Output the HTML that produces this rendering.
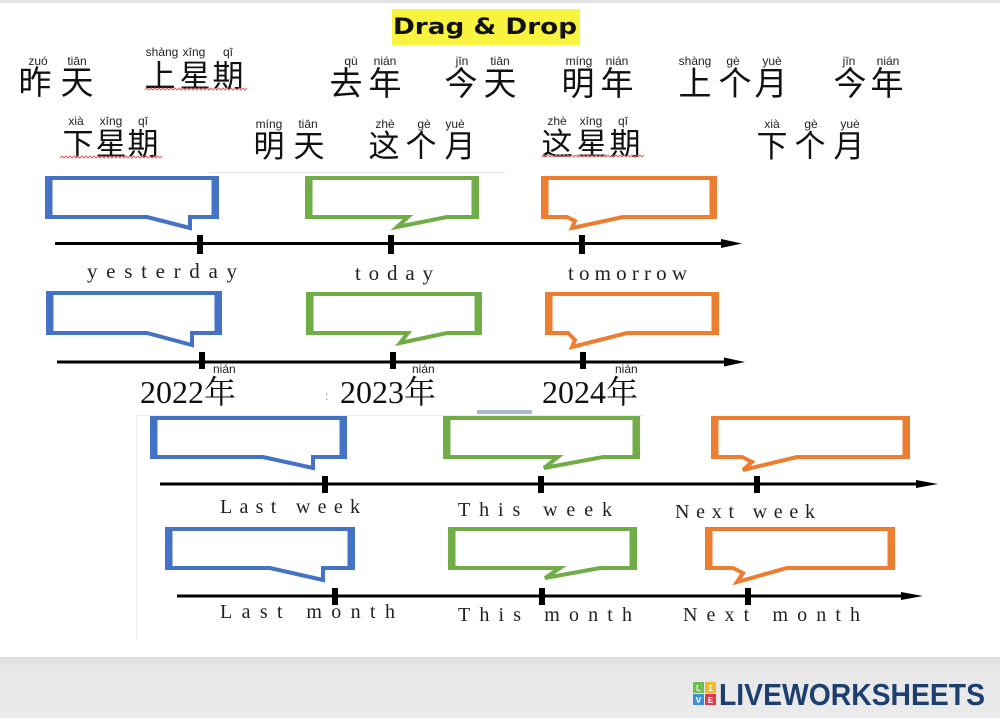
<!DOCTYPE html>
<html><head><meta charset="utf-8"><style>
html,body{margin:0;padding:0;background:#fff;width:1000px;height:718px;overflow:hidden}
svg{display:block}
.cn{font-family:"Noto Sans CJK SC","WenQuanYi Zen Hei",sans-serif;fill:#111}
.py{font-family:"Liberation Sans","DejaVu Sans",sans-serif;font-size:12px;fill:#222}
.lb{font-family:"Liberation Serif",serif;fill:#222}
.yr{font-family:"Liberation Serif","Noto Serif CJK SC",serif;font-size:32px;fill:#111}
</style></head><body>
<svg width="1000" height="718" viewBox="0 0 1000 718" xmlns="http://www.w3.org/2000/svg">
<rect x="0" y="0" width="1000" height="718" fill="#fff"/>
<rect x="0" y="0" width="1000" height="3" fill="#e4e4e4"/>

<!-- title -->
<rect x="392" y="9" width="188" height="36" fill="#f8f33f"/>
<text x="393" y="34" font-family="'DejaVu Sans',sans-serif" font-weight="bold" font-size="22" textLength="184" lengthAdjust="spacingAndGlyphs" fill="#111">Drag &amp; Drop</text>

<!-- row 1 words -->
<g class="cn" font-size="33" text-anchor="middle">
<text x="35" y="94">昨</text><text x="77" y="94">天</text>
<text x="346" y="95">去</text><text x="385" y="95">年</text>
<text x="461" y="95">今</text><text x="500" y="95">天</text>
<text x="578" y="95">明</text><text x="617" y="95">年</text>
<text x="695" y="95">上</text><text x="735" y="95">个</text><text x="771" y="95">月</text>
<text x="850" y="95">今</text><text x="887" y="95">年</text>
</g>
<g class="cn" font-size="31" text-anchor="middle">
<text x="160" y="87">上</text><text x="195" y="87">星</text><text x="228" y="87">期</text>
<text x="78" y="155">下</text><text x="111" y="155">星</text><text x="143" y="155">期</text>
<text x="269" y="157">明</text><text x="309" y="157">天</text>
<text x="384" y="157">这</text><text x="421" y="157">个</text><text x="460" y="157">月</text>
<text x="557" y="155">这</text><text x="592" y="155">星</text><text x="625" y="155">期</text>
<text x="772" y="157">下</text><text x="810" y="157">个</text><text x="849" y="157">月</text>
</g>
<g class="py" text-anchor="middle">
<text x="38" y="65">zuó</text><text x="77" y="65">tiān</text>
<text x="162" y="56">shàng</text><text x="194" y="56">xīng</text><text x="228" y="56">qī</text>
<text x="351" y="65">qù</text><text x="385" y="65">nián</text>
<text x="462" y="65">jīn</text><text x="500" y="65">tiān</text>
<text x="579" y="65">míng</text><text x="617" y="65">nián</text>
<text x="695" y="65">shàng</text><text x="733" y="65">gè</text><text x="772" y="65">yuè</text>
<text x="849" y="65">jīn</text><text x="888" y="65">nián</text>
<text x="76" y="125">xià</text><text x="111" y="125">xīng</text><text x="143" y="125">qī</text>
<text x="269" y="128">míng</text><text x="308" y="128">tiān</text>
<text x="385" y="128">zhè</text><text x="424" y="128">gè</text><text x="455" y="128">yuè</text>
<text x="557" y="125">zhè</text><text x="591" y="125">xīng</text><text x="623" y="125">qī</text>
<text x="772" y="128">xià</text><text x="811" y="128">gè</text><text x="850" y="128">yuè</text>
</g>
<!-- wavy underlines -->
<g fill="none" stroke="#e06060" stroke-width="1">
<path d="M145,90 l2,-2 l2,2 l2,-2 l2,2 l2,-2 l2,2 l2,-2 l2,2 l2,-2 l2,2 l2,-2 l2,2 l2,-2 l2,2 l2,-2 l2,2 l2,-2 l2,2 l2,-2 l2,2 l2,-2 l2,2 l2,-2 l2,2 l2,-2 l2,2 l2,-2 l2,2 l2,-2 l2,2 l2,-2 l2,2 l2,-2 l2,2 l2,-2 l2,2 l2,-2 l2,2 l2,-2 l2,2 l2,-2 l2,2 l2,-2 l2,2 l2,-2 l2,2 l2,-2 l2,2 l2,-2 l2,2 l2,-2"/>
<path d="M60,158 l2,-2 l2,2 l2,-2 l2,2 l2,-2 l2,2 l2,-2 l2,2 l2,-2 l2,2 l2,-2 l2,2 l2,-2 l2,2 l2,-2 l2,2 l2,-2 l2,2 l2,-2 l2,2 l2,-2 l2,2 l2,-2 l2,2 l2,-2 l2,2 l2,-2 l2,2 l2,-2 l2,2 l2,-2 l2,2 l2,-2 l2,2 l2,-2 l2,2 l2,-2 l2,2 l2,-2 l2,2 l2,-2 l2,2 l2,-2 l2,2 l2,-2 l2,2 l2,-2 l2,2 l2,-2 l2,2 l2,-2"/>
<path d="M542,157 l2,-2 l2,2 l2,-2 l2,2 l2,-2 l2,2 l2,-2 l2,2 l2,-2 l2,2 l2,-2 l2,2 l2,-2 l2,2 l2,-2 l2,2 l2,-2 l2,2 l2,-2 l2,2 l2,-2 l2,2 l2,-2 l2,2 l2,-2 l2,2 l2,-2 l2,2 l2,-2 l2,2 l2,-2 l2,2 l2,-2 l2,2 l2,-2 l2,2 l2,-2 l2,2 l2,-2 l2,2 l2,-2 l2,2 l2,-2 l2,2 l2,-2 l2,2 l2,-2 l2,2 l2,-2 l2,2 l2,-2"/>
</g>

<!-- faint guide lines -->
<line x1="210" y1="172.5" x2="505" y2="172.5" stroke="#e2e2e2" stroke-width="1"/>
<line x1="136.5" y1="415" x2="136.5" y2="640" stroke="#ececec" stroke-width="1"/>
<line x1="136" y1="415.5" x2="645" y2="415.5" stroke="#ececec" stroke-width="1"/>
<rect x="477" y="410" width="55" height="4" fill="#a9b8cc"/>

<!-- bubbles -->
<g fill="#fff" stroke-width="4" stroke-linejoin="miter">
<path stroke="#4472c4" d="M47,178 H217 V217 H190 V228 L147,217 H47 Z"/>
<path stroke="#70ad47" d="M307,178 H477 V217 H447 L397,227 L408,217 H307 Z"/>
<path stroke="#ed7d31" d="M543,178 H715 V217 H623 L572,228 L575,221 L567,217 H543 Z"/>
<path stroke="#4472c4" d="M48,293 H220 V333 H192 V345 L147,333 H48 Z"/>
<path stroke="#70ad47" d="M308,294 H480 V333 H447 L400,343 L408,333 H308 Z"/>
<path stroke="#ed7d31" d="M547,294 H717 V333 H627 L572,347 L575,340 L568,333 H547 Z"/>
<path stroke="#4472c4" d="M152,418 H345 V457 H313 V468 L263,457 H152 Z"/>
<path stroke="#70ad47" d="M445,418 H638 V457 H603 L544,468 L558,457 H445 Z"/>
<path stroke="#ed7d31" d="M713,418 H908 V457 H797 L743,470 L752,462 L742,457 H713 Z"/>
<path stroke="#4472c4" d="M167,529 H353 V568 H323 V580 L270,568 H167 Z"/>
<path stroke="#70ad47" d="M450,529 H635 V568 H600 L545,578 L560,568 H450 Z"/>
<path stroke="#ed7d31" d="M707,529 H893 V568 H787 L737,582 L743,573 L733,568 H707 Z"/>
</g>
<!-- thicker sides -->
<g stroke-width="7" fill="none">
<g stroke="#4472c4">
<line x1="49" y1="176" x2="49" y2="219"/><line x1="215" y1="176" x2="215" y2="219"/>
<line x1="50" y1="291" x2="50" y2="335"/><line x1="218" y1="291" x2="218" y2="335"/>
<line x1="154" y1="416" x2="154" y2="459"/><line x1="343" y1="416" x2="343" y2="459"/>
<line x1="169" y1="527" x2="169" y2="570"/><line x1="351" y1="527" x2="351" y2="570"/>
</g>
<g stroke="#70ad47">
<line x1="309" y1="176" x2="309" y2="219"/><line x1="475" y1="176" x2="475" y2="219"/>
<line x1="310" y1="292" x2="310" y2="335"/><line x1="478" y1="292" x2="478" y2="335"/>
<line x1="447" y1="416" x2="447" y2="459"/><line x1="636" y1="416" x2="636" y2="459"/>
<line x1="452" y1="527" x2="452" y2="570"/><line x1="633" y1="527" x2="633" y2="570"/>
</g>
<g stroke="#ed7d31">
<line x1="545" y1="176" x2="545" y2="219"/><line x1="713" y1="176" x2="713" y2="219"/>
<line x1="549" y1="292" x2="549" y2="335"/><line x1="715" y1="292" x2="715" y2="335"/>
<line x1="715" y1="416" x2="715" y2="459"/><line x1="906" y1="416" x2="906" y2="459"/>
<line x1="709" y1="527" x2="709" y2="570"/><line x1="891" y1="527" x2="891" y2="570"/>
</g>
</g>

<!-- timelines -->
<g stroke="#000" stroke-width="3">
<line x1="55" y1="243.5" x2="726" y2="243.5"/>
<line x1="57" y1="362" x2="729" y2="362"/>
<line x1="160" y1="484" x2="922" y2="484"/>
<line x1="177" y1="596" x2="907" y2="596"/>
</g>
<g fill="#000">
<polygon points="721,239 742,243.5 721,248"/>
<polygon points="724,357.5 745,362 724,366.5"/>
<polygon points="916,480 938,484 916,488"/>
<polygon points="901,592 923,596 901,600"/>
<rect x="197" y="235" width="6" height="19"/><rect x="388" y="235" width="6" height="19"/><rect x="579" y="235" width="6" height="19"/>
<rect x="199" y="352" width="6" height="17"/><rect x="390" y="352" width="6" height="17"/><rect x="580" y="352" width="6" height="17"/>
<rect x="322" y="476" width="6" height="17"/><rect x="538" y="476" width="6" height="17"/><rect x="754" y="476" width="6" height="17"/>
<rect x="332" y="588" width="6" height="17"/><rect x="539" y="588" width="6" height="17"/><rect x="745" y="588" width="6" height="17"/>
</g>

<!-- labels -->
<g class="lb" font-size="21">
<text x="87" y="278" textLength="150">yesterday</text>
<text x="355" y="280" textLength="78">today</text>
<text x="568" y="280" textLength="119">tomorrow</text>
</g>
<g class="lb" font-size="20">
<text x="220" y="513" textLength="140">Last week</text>
<text x="458" y="516" textLength="154">This week</text>
<text x="675" y="518" textLength="140">Next week</text>
<text x="220" y="618" textLength="175">Last month</text>
<text x="458" y="621" textLength="174">This month</text>
<text x="683" y="621" textLength="177">Next month</text>
</g>

<!-- years -->
<text class="yr" x="140" y="403">2022年</text>
<text class="yr" x="340" y="403">2023年</text>
<text class="yr" x="542" y="403">2024年</text>
<text x="325" y="400" font-family="'Liberation Sans',sans-serif" font-size="12" fill="#888">:</text>
<g class="py" font-size="11">
<text x="213" y="373">nián</text>
<text x="412" y="373">nián</text>
<text x="615" y="373">nián</text>
</g>

<!-- footer -->
<defs>
<linearGradient id="fg" x1="0" y1="0" x2="0" y2="1">
<stop offset="0" stop-color="#dcdcdc"/><stop offset="0.12" stop-color="#e6e6e6"/><stop offset="1" stop-color="#ebebeb"/>
</linearGradient>
</defs>
<rect x="0" y="657" width="1000" height="61" fill="url(#fg)"/>
<g font-family="'Liberation Mono',monospace" font-weight="bold" font-size="9" fill="#fff" text-anchor="middle">
<rect x="693" y="682" width="11" height="11" fill="#6cbf4a"/><text x="698.5" y="691">L</text>
<rect x="705" y="682" width="11" height="11" fill="#f2b72c"/><text x="710.5" y="691">I</text>
<rect x="693" y="694" width="11" height="11" fill="#3f8fd8"/><text x="698.5" y="703">V</text>
<rect x="705" y="694" width="11" height="11" fill="#e03a4e"/><text x="710.5" y="703">E</text>
</g>
<text x="719" y="705" font-family="'Liberation Sans',sans-serif" font-weight="bold" font-size="31" textLength="266" lengthAdjust="spacingAndGlyphs" fill="#1d3f6e">LIVEWORKSHEETS</text>
</svg>
</body></html>
